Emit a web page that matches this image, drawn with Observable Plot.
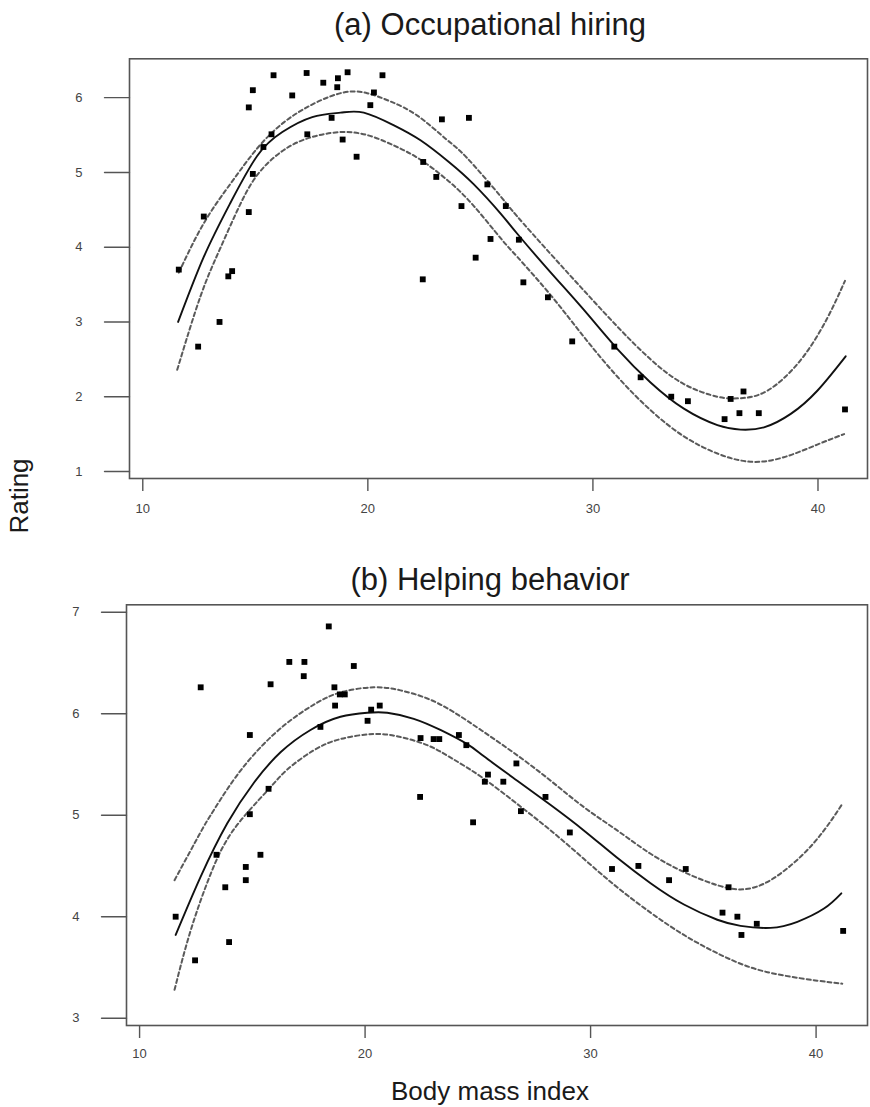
<!DOCTYPE html>
<html>
<head>
<meta charset="utf-8">
<script src="https://cdn.jsdelivr.net/npm/d3@7"></script>
<script src="https://cdn.jsdelivr.net/npm/@observablehq/plot@0.6"></script>
<style>
  html, body { margin: 0; padding: 0; background: #fff; }
  #wrap { position: relative; width: 870px; height: 1107px; font-family: "Liberation Sans", Arial, Helvetica, sans-serif; }
  #wrap > div.panel { position: absolute; left: 0; }
  #overlay { position: absolute; left: 0; top: 0; pointer-events: none; }
</style>
</head>
<body>
<div id="wrap">
  <div class="panel" id="pa" style="top:0px"></div>
  <div class="panel" id="pb" style="top:550px"></div>
  <svg id="overlay" width="870" height="1107" font-family="Liberation Sans, Arial, Helvetica, sans-serif" fill="#1a1a1a">
    <text x="490" y="35" text-anchor="middle" font-size="31">(a) Occupational hiring</text>
    <text x="490" y="590" text-anchor="middle" font-size="31">(b) Helping behavior</text>
    <text x="490" y="1100" text-anchor="middle" font-size="26">Body mass index</text>
    <text transform="translate(28,496) rotate(-90)" text-anchor="middle" font-size="26">Rating</text>
  </svg>
</div>
<script>
// ---- Data ----
const bmi = [11.6, 12.46, 12.71, 13.41, 13.8, 13.97, 14.71, 14.89, 14.71, 14.89, 15.36, 15.72, 15.81, 16.64, 17.28, 17.31, 18.02, 18.39, 18.64, 18.67, 18.88, 19.1, 19.5, 20.11, 20.27, 20.65, 22.44, 22.46, 23.04, 23.29, 24.16, 24.49, 24.79, 25.31, 25.45, 26.13, 26.71, 26.91, 28.0, 29.08, 30.95, 32.12, 33.48, 34.22, 35.85, 36.12, 36.51, 36.69, 37.37, 41.2];

const hiring = [3.70, 2.67, 4.41, 3.00, 3.61, 3.68, 5.87, 6.10, 4.47, 4.98, 5.34, 5.51, 6.30, 6.03, 6.33, 5.51, 6.20, 5.73, 6.14, 6.26, 5.44, 6.34, 5.21, 5.90, 6.07, 6.30, 3.57, 5.14, 4.94, 5.71, 4.55, 5.73, 3.86, 4.84, 4.11, 4.55, 4.10, 3.53, 3.33, 2.74, 2.67, 2.26, 2.00, 1.94, 1.70, 1.97, 1.78, 2.07, 1.78, 1.83];

const helping = [4.00, 3.57, 6.26, 4.61, 4.29, 3.75, 4.49, 5.79, 4.36, 5.01, 4.61, 5.26, 6.29, 6.51, 6.37, 6.51, 5.87, 6.86, 6.26, 6.08, 6.19, 6.19, 6.47, 5.93, 6.04, 6.08, 5.18, 5.76, 5.75, 5.75, 5.79, 5.69, 4.93, 5.33, 5.40, 5.33, 5.51, 5.04, 5.18, 4.83, 4.47, 4.50, 4.36, 4.47, 4.04, 4.29, 4.00, 3.82, 3.93, 3.86];

// Fitted curve and confidence bands, panel (a)
const aFit = [[11.57,3.00],[12.71,3.87],[13.87,4.58],[15.08,5.22],[16.2,5.54],[17.53,5.74],[18.79,5.80],[19.82,5.80],[21.16,5.63],[22.34,5.43],[23.6,5.14],[24.71,4.84],[25.9,4.45],[26.64,4.18],[28.1,3.67],[29.6,3.16],[31.08,2.64],[32.56,2.19],[34.04,1.84],[35.53,1.62],[36.56,1.56],[37.6,1.59],[38.79,1.77],[39.97,2.08],[41.23,2.54]];
const aUpper = [[11.6,3.66],[12.71,4.32],[13.9,4.85],[15.08,5.32],[16.27,5.67],[17.6,5.92],[18.93,6.07],[19.97,6.06],[21.0,5.95],[22.2,5.76],[23.5,5.44],[24.42,5.19],[25.9,4.68],[26.64,4.41],[28.12,3.91],[29.6,3.42],[31.08,2.94],[32.56,2.50],[34.04,2.17],[35.53,2.00],[36.56,1.98],[37.75,2.08],[39.23,2.49],[40.41,3.05],[41.2,3.55]];
const aLower = [[11.53,2.36],[12.56,3.34],[13.42,3.97],[14.34,4.58],[15.23,5.02],[16.42,5.33],[17.6,5.48],[18.79,5.54],[19.97,5.50],[21.16,5.36],[22.34,5.17],[23.6,4.88],[24.71,4.55],[25.9,4.12],[26.64,3.87],[28.12,3.36],[29.6,2.80],[31.08,2.27],[32.56,1.82],[34.04,1.47],[35.53,1.24],[37.0,1.13],[38.48,1.19],[39.97,1.36],[41.16,1.50]];

// Fitted curve and confidence bands, panel (b)
const bFit = [[11.6,3.82],[12.7,4.39],[13.89,4.92],[15.07,5.32],[16.25,5.62],[17.58,5.84],[18.91,5.97],[20.1,6.01],[20.98,6.01],[22.16,5.95],[23.34,5.84],[24.53,5.70],[25.27,5.58],[26.75,5.34],[28.23,5.10],[29.7,4.85],[31.18,4.58],[32.66,4.33],[34.14,4.12],[35.62,3.97],[36.65,3.91],[37.98,3.89],[39.17,3.95],[40.35,4.08],[41.12,4.23]];
const bUpper = [[11.55,4.36],[12.7,4.83],[13.15,5.00],[14.18,5.35],[15.37,5.67],[16.55,5.91],[17.73,6.09],[18.91,6.21],[20.39,6.26],[21.57,6.23],[22.76,6.15],[23.9,6.02],[25.2,5.83],[26.75,5.59],[28.23,5.34],[29.7,5.08],[31.18,4.85],[32.66,4.62],[34.14,4.44],[35.62,4.31],[36.8,4.27],[37.98,4.36],[39.31,4.59],[40.35,4.85],[41.16,5.11]];
const bLower = [[11.55,3.28],[12.26,3.86],[13.15,4.42],[14.18,4.86],[15.66,5.24],[16.55,5.45],[17.73,5.64],[18.91,5.75],[20.39,5.80],[21.57,5.77],[22.76,5.69],[23.85,5.56],[25.2,5.37],[26.75,5.11],[28.23,4.85],[29.7,4.57],[31.18,4.29],[32.66,4.04],[34.14,3.82],[35.62,3.64],[37.1,3.50],[38.58,3.42],[40.05,3.37],[41.16,3.34]];

const xTicks = [10, 20, 30, 40];
const aYTicks = [1, 2, 3, 4, 5, 6];
const bYTicks = [3, 4, 5, 6, 7];

// ---- Drawing ----
const pointsA = bmi.map((x, i) => ({x, y: hiring[i]}));
const pointsB = bmi.map((x, i) => ({x, y: helping[i]}));

// plain tick (no arrowhead) for the vector mark
const plainTick = {draw(context, l) { context.moveTo(0, 0); context.lineTo(0, -l); }};

function panel({points, fit, upper, lower, yTicks, xDomain, yDomain, height, mt, mb, ml, xPad}) {
  const axisCol = "#555";
  const font = "Liberation Sans, Arial, Helvetica, sans-serif";
  return Plot.plot({
    width: 870,
    height,
    marginTop: mt,
    marginBottom: mb,
    marginLeft: ml,
    marginRight: 3,
    x: {domain: xDomain, axis: null},
    y: {domain: yDomain, axis: null},
    style: {fontFamily: font, fontSize: "13px", background: "#fff"},
    marks: [
      // y axis: long ticks pointing left, labels further left
      Plot.vector(yTicks, {y: d => d, frameAnchor: "left", length: 25, rotate: -90, anchor: "start", shape: plainTick, stroke: axisCol, strokeWidth: 1.4}),
      Plot.text(yTicks, {y: d => d, text: d => String(d), frameAnchor: "left", dx: -47, textAnchor: "end", fill: "#444", fontSize: 13}),
      // x axis: ticks down from the frame
      Plot.axisX({ticks: xTicks, tickSize: 13, tickPadding: xPad, stroke: axisCol, strokeWidth: 1.4, fill: "#444", label: null, tickFormat: d => String(d)}),
      Plot.frame({stroke: axisCol, strokeWidth: 1.6}),
      Plot.line(upper, {x: d => d[0], y: d => d[1], curve: "natural", stroke: "#5a5a5a", strokeWidth: 2, strokeDasharray: "4,3"}),
      Plot.line(lower, {x: d => d[0], y: d => d[1], curve: "natural", stroke: "#5a5a5a", strokeWidth: 2, strokeDasharray: "4,3"}),
      Plot.line(fit, {x: d => d[0], y: d => d[1], curve: "natural", stroke: "#111", strokeWidth: 1.9}),
      Plot.dot(points, {x: "x", y: "y", symbol: "square", r: 3.3, fill: "#000", stroke: "none"})
    ]
  });
}

document.getElementById("pa").appendChild(panel({
  points: pointsA, fit: aFit, upper: aUpper, lower: aLower, yTicks: aYTicks,
  xDomain: [9.41, 42.2], yDomain: [0.906, 6.52], height: 530, mt: 58.3, mb: 52, ml: 129, xPad: 12
}));
document.getElementById("pb").appendChild(panel({
  points: pointsB, fit: bFit, upper: bUpper, lower: bLower, yTicks: bYTicks,
  xDomain: [9.42, 42.28], yDomain: [2.928, 7.073], height: 510, mt: 54.3, mb: 35, ml: 126, xPad: 10
}));
</script>
</body>
</html>
